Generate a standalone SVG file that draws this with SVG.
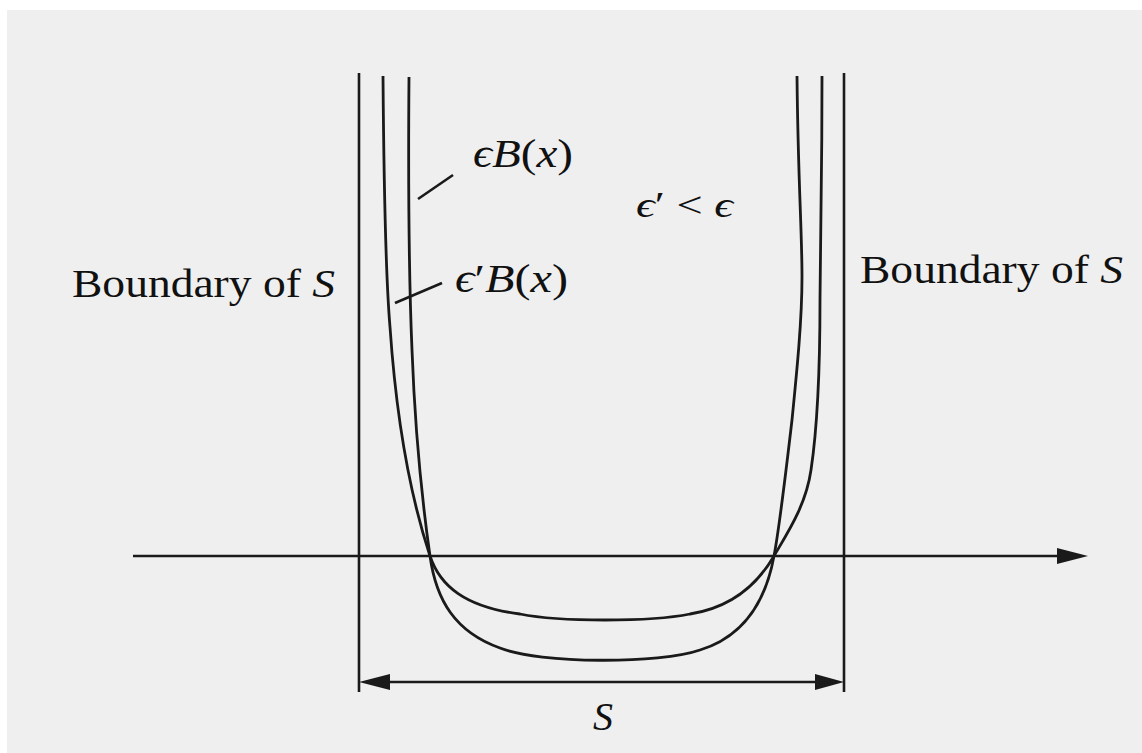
<svg xmlns="http://www.w3.org/2000/svg" width="1142" height="753" viewBox="0 0 1142 753">
<style>
.ln{fill:none;stroke:#1a1a1a;stroke-width:2.6;stroke-linecap:butt}
.cv{fill:none;stroke:#1a1a1a;stroke-width:2.8}
.ah{fill:#1a1a1a}
.t{font-family:"Liberation Serif","DejaVu Serif",serif;font-size:40px;fill:#111}
.m{font-style:italic}
</style>
<rect x="0" y="0" width="1142" height="753" fill="#ffffff"/>
<rect x="7" y="10" width="1135" height="743" fill="#efefef"/>
<g id="boundaries">
<line class="ln" x1="359" y1="73" x2="359" y2="692"/>
<line class="ln" x1="844" y1="73" x2="844" y2="692"/>
</g>
<g id="axis">
<line class="ln" x1="133" y1="556" x2="1060" y2="556"/>
<polygon class="ah" points="1057,548 1088,556 1057,564"/>
</g>
<g id="dimension">
<line class="ln" x1="385" y1="682" x2="820" y2="682"/>
<polygon class="ah" points="359,682 390,674 390,690"/>
<polygon class="ah" points="844,682 815,674 815,690"/>
</g>
<g id="curve-eps-prime">
<path class="cv" d="M383,76 C384,200 386,280 390,327 C395,400 405,480 430,556 C440,586 465,607 520,614 C560,622 650,622 690,614 C735,607 760,580 774,556 C788,532 806,505 811,470 C817,430 820,380 820,300 C821,220 822,150 822,76"/>
</g>
<g id="curve-eps">
<path class="cv" d="M409,77 C408,200 409,280 412,350 C415,430 422,500 430,556 C436,600 455,632 500,648 C540,664 660,664 700,650 C745,636 766,600 774,556 C779,530 785,480 792,420 C797,370 802,320 802,277 C802,230 798,180 797,76"/>
</g>
<g id="connectors">
<line class="ln" x1="418" y1="199" x2="453" y2="175"/>
<line class="ln" x1="395" y1="303" x2="442" y2="283"/>
</g>
<g id="labels">
<text class="t" x="72" y="297" textLength="263" lengthAdjust="spacingAndGlyphs">Boundary of <tspan class="m">S</tspan></text>
<text class="t" x="860" y="283" textLength="263" lengthAdjust="spacingAndGlyphs">Boundary of <tspan class="m">S</tspan></text>
<text class="t" x="473" y="167" textLength="100" lengthAdjust="spacingAndGlyphs"><tspan class="m">ϵB</tspan>(<tspan class="m">x</tspan>)</text>
<text class="t" x="455" y="292" textLength="113" lengthAdjust="spacingAndGlyphs"><tspan class="m">ϵ</tspan>′<tspan class="m">B</tspan>(<tspan class="m">x</tspan>)</text>
<text class="t" x="636" y="217" style="font-size:36px" textLength="97" lengthAdjust="spacingAndGlyphs"><tspan class="m">ϵ</tspan>′ &lt; <tspan class="m">ϵ</tspan></text>
<text class="t m" x="593" y="730">S</text>
</g>
</svg>
